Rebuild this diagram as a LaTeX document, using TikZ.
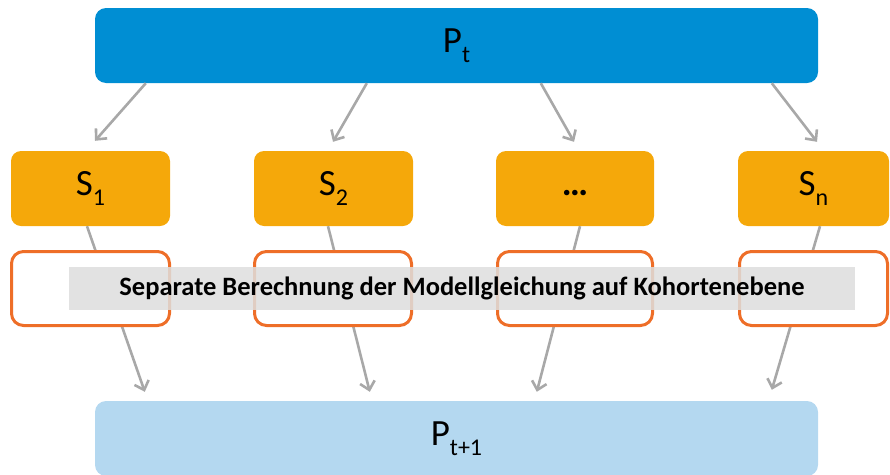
\documentclass[tikz,border=0pt]{standalone}
\usepackage{fontspec}
\setmainfont{Carlito}
\usetikzlibrary{arrows.meta}
\definecolor{popblue}{HTML}{008ED3}
\definecolor{poplight}{HTML}{B4D8F0}
\definecolor{segfill}{HTML}{F5A80A}
\definecolor{calcedge}{HTML}{EE6E28}
\definecolor{bandgray}{HTML}{DEDEDE}
\definecolor{arrgray}{HTML}{A8A8A8}
\newcommand{\lowidx}[1]{\raisebox{-10pt}{\fontsize{24}{24}\selectfont #1}}
\tikzset{
  popbox/.style={rounded corners=11pt, minimum width=723pt, minimum height=75pt, inner sep=0pt, font=\fontsize{37}{37}\selectfont},
  segbox/.style={fill=segfill, rounded corners=10pt, minimum height=75pt, inner sep=0pt, font=\fontsize{37}{37}\selectfont},
  calcbox/.style={draw=calcedge, line width=3pt, fill=white, rounded corners=12pt, minimum height=74pt, inner sep=0pt},
  arr/.style={draw=arrgray, line width=2.6pt, -{Straight Barb[length=8pt,width=15pt,line width=2.6pt]}},
}
\begin{document}
\begin{tikzpicture}[x=1pt,y=-1pt]
\useasboundingbox (0,0) rectangle (890,474);
% populations
\node[popbox, fill=popblue] (pt) at (456.5,45.5) {P\lowidx{t}};
\node[popbox, fill=poplight] (pn) at (456.5,438.5) {P\lowidx{t+1}};
% cohort segments
\node[segbox, minimum width=159pt] (s1) at (90.5,188.5) {S\lowidx{1}};
\node[segbox, minimum width=159pt] (s2) at (333.5,188.5) {S\lowidx{2}};
\node[segbox, minimum width=158pt] (s3) at (575,188.5) {\vphantom{S\lowidx{1}}\textbf{…}};
\node[segbox, minimum width=151pt] (sn) at (813.5,188.5) {S\lowidx{n}};
% split arrows
\draw[arr] ([xshift=51pt]pt.south west) -- ([shift={(4.5,-10)}]s1.north);
\draw[arr] ([xshift=272pt]pt.south west) -- ([shift={(-0.5,-9)}]s2.north);
\draw[arr] ([xshift=446pt]pt.south west) -- ([shift={(-1,-9)}]s3.north);
\draw[arr] ([xshift=677pt]pt.south west) -- ([shift={(3.5,-9)}]sn.north);
% merge arrows
\draw[arr] ([xshift=-3.5pt]s1.south) -- ([shift={(50,-9)}]pn.north west);
\draw[arr] ([xshift=-5.5pt]s2.south) -- ([shift={(275,-9)}]pn.north west);
\draw[arr] ([xshift=5pt]s3.south) -- ([shift={(442,-9)}]pn.north west);
\draw[arr] ([xshift=6.5pt]sn.south) -- ([shift={(677,-11)}]pn.north west);
% calculation boxes
\node[calcbox, minimum width=158pt] (c1) at (90.5,288.5) {};
\node[calcbox, minimum width=157pt] (c2) at (333,288.5) {};
\node[calcbox, minimum width=155pt] (c3) at (575,288.5) {};
\node[calcbox, minimum width=148pt] (cn) at (813.5,288.5) {};
% caption band
\node[fill=bandgray, fill opacity=0.85, text opacity=1, minimum width=786pt, minimum height=43pt, inner sep=0pt,
      font=\fontsize{26.5}{26.5}\selectfont\bfseries] (band) at (462,288.5) {Separate Berechnung der Modellgleichung auf Kohortenebene};
\end{tikzpicture}
\end{document}
